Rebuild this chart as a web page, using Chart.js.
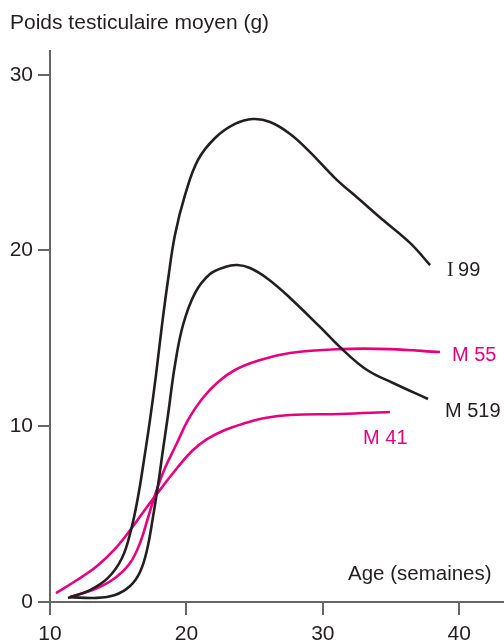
<!DOCTYPE html>
<html>
<head>
<meta charset="utf-8">
<script src="https://cdn.jsdelivr.net/npm/chart.js@4"></script>
<style>
  html, body { margin: 0; padding: 0; background: #ffffff; }
  #wrap { width: 504px; height: 642px; }
</style>
</head>
<body>
<div id="wrap"><canvas id="chart" width="504" height="642"></canvas></div>
<script>
// Axis ticks
const xTicks = [10, 20, 30, 40];
const yTicks = [0, 10, 20, 30];

// Mean testicular weight (g) against age (weeks), one pair of arrays per strain
const ageI99 = [11.32, 12.93, 14.25, 15.28, 15.94, 16.45, 16.89, 17.33, 17.77, 18.21, 18.65, 19.16, 19.90, 20.85, 22.10, 23.56, 24.88, 26.13, 27.60, 29.06, 30.89, 32.73, 34.41, 36.39, 37.86];
const weightI99 = [0.23, 0.68, 1.37, 2.50, 4.10, 5.97, 8.08, 10.36, 12.92, 15.76, 18.32, 20.88, 23.16, 25.15, 26.40, 27.20, 27.48, 27.31, 26.63, 25.60, 24.12, 22.87, 21.73, 20.43, 19.17];

const ageM519 = [11.47, 13.30, 14.77, 15.87, 16.60, 17.11, 17.55, 17.92, 18.28, 18.65, 19.16, 19.75, 20.63, 21.73, 22.83, 23.71, 24.66, 25.98, 27.60, 29.79, 31.48, 33.24, 35.15, 37.71];
const weightM519 = [0.28, 0.23, 0.40, 0.91, 1.71, 2.96, 4.84, 6.66, 8.65, 10.64, 13.48, 15.76, 17.58, 18.66, 19.06, 19.17, 19.00, 18.38, 17.30, 15.65, 14.34, 13.20, 12.46, 11.55];

const ageM55 = [11.47, 13.30, 14.77, 15.87, 16.60, 17.18, 17.77, 18.43, 19.24, 20.12, 21.14, 22.32, 23.56, 25.18, 27.60, 31.26, 34.93, 38.59];
const weightM55 = [0.28, 0.74, 1.37, 2.22, 3.36, 4.78, 6.26, 7.62, 8.93, 10.36, 11.55, 12.52, 13.20, 13.71, 14.17, 14.39, 14.39, 14.22];

const ageM41 = [10.44, 11.98, 13.45, 14.77, 15.94, 17.11, 18.28, 19.38, 20.41, 21.51, 22.83, 24.30, 25.76, 27.60, 31.26, 34.93];
const weightM41 = [0.51, 1.25, 2.05, 3.02, 4.15, 5.41, 6.60, 7.68, 8.59, 9.27, 9.79, 10.18, 10.47, 10.64, 10.70, 10.81];

const BLACK = '#231f20';
const MAGENTA = '#e6007e';
const AXIS = '#666666';
const SANS = '"Liberation Sans", Arial, Helvetica, sans-serif';

function points(ages, weights) {
  return ages.map((a, i) => ({ x: a, y: weights[i] }));
}

function series(label, ages, weights, color, tag) {
  return {
    label: label,
    data: points(ages, weights),
    borderColor: color,
    backgroundColor: color,
    borderWidth: 2.6,
    pointRadius: 0,
    showLine: true,
    fill: false,
    tension: 0.4,
    borderCapStyle: 'butt',
    endTag: tag
  };
}

// End-of-curve captions, placed relative to each curve's last point
const endTags = {
  i99:  { dx: 17, dy: 11, color: BLACK },
  m55:  { dx: 12, dy: 9,  color: MAGENTA },
  m519: { dx: 17, dy: 18, color: BLACK },
  m41:  { dx: -27, dy: 32, color: MAGENTA }
};

const captions = {
  id: 'captions',
  afterDraw(chart) {
    const ctx = chart.ctx;
    const xs = chart.scales.x;
    const ys = chart.scales.y;
    ctx.save();
    ctx.textAlign = 'left';
    ctx.textBaseline = 'alphabetic';

    // Axis titles
    ctx.fillStyle = BLACK;
    ctx.font = '21px ' + SANS;
    ctx.fillText('Poids testiculaire moyen (g)', 10, 29);
    ctx.font = '20.5px ' + SANS;
    ctx.fillText('Age (semaines)', 348, 580);

    // Strain names at the end of each curve
    chart.data.datasets.forEach(ds => {
      const tag = endTags[ds.endTag];
      const last = ds.data[ds.data.length - 1];
      const px = xs.getPixelForValue(last.x) + tag.dx;
      const py = ys.getPixelForValue(last.y) + tag.dy;
      ctx.fillStyle = tag.color;
      if (ds.endTag === 'i99') {
        ctx.font = '20px "Liberation Serif", "Times New Roman", serif';
        ctx.fillText('I', px, py);
        ctx.font = '20px ' + SANS;
        ctx.fillText('99', px + 11, py);
      } else {
        ctx.font = '20px ' + SANS;
        ctx.fillText(ds.label, px, py);
      }
    });
    ctx.restore();
  }
};

new Chart(document.getElementById('chart'), {
  type: 'scatter',
  data: {
    datasets: [
      series('I 99', ageI99, weightI99, BLACK, 'i99'),
      series('M 519', ageM519, weightM519, BLACK, 'm519'),
      series('M 55', ageM55, weightM55, MAGENTA, 'm55'),
      series('M 41', ageM41, weightM41, MAGENTA, 'm41')
    ]
  },
  options: {
    responsive: false,
    animation: false,
    devicePixelRatio: 1,
    layout: { padding: { top: 51, right: 0, bottom: 0, left: 0 } },
    plugins: {
      legend: { display: false },
      tooltip: { enabled: false },
      title: { display: false }
    },
    scales: {
      x: {
        type: 'linear',
        min: 10,
        max: 43.28,
        afterBuildTicks(scale) { scale.ticks = xTicks.map(v => ({ value: v })); },
        afterFit(scale) { scale.height = 40; },
        ticks: {
          color: BLACK,
          font: { family: SANS, size: 21 },
          padding: 7,
          maxRotation: 0
        },
        grid: { drawOnChartArea: false, drawTicks: true, tickLength: 13, color: AXIS, lineWidth: 2 },
        border: { display: true, color: AXIS, width: 2 }
      },
      y: {
        type: 'linear',
        min: 0,
        max: 31.35,
        afterBuildTicks(scale) { scale.ticks = yTicks.map(v => ({ value: v })); },
        afterFit(scale) { scale.width = 50; },
        ticks: {
          color: BLACK,
          font: { family: SANS, size: 21 },
          padding: 5
        },
        grid: { drawOnChartArea: false, drawTicks: true, tickLength: 12, color: AXIS, lineWidth: 2 },
        border: { display: true, color: AXIS, width: 2 }
      }
    }
  },
  plugins: [captions]
});
</script>
</body>
</html>
